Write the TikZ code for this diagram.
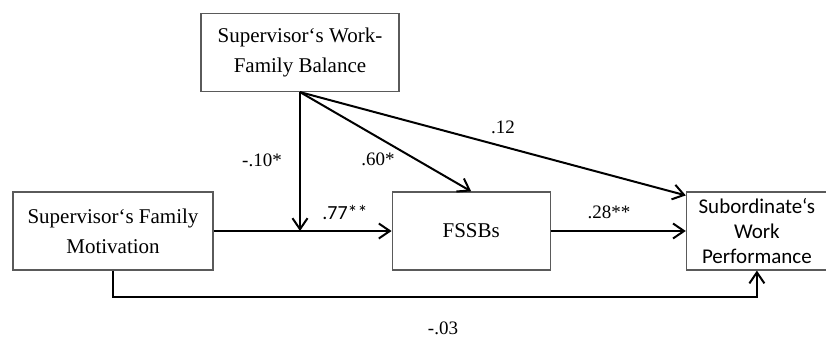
\documentclass[tikz,border=0pt]{standalone}
\usepackage{fontspec}
\setmainfont{Liberation Serif}
\newfontfamily\calibrifont{Carlito}
\usetikzlibrary{positioning,arrows.meta}
\definecolor{boxgray}{HTML}{5A5A5A}

\begin{document}
\begin{tikzpicture}[
    x=1pt, y=1pt,
    >={Straight Barb[length=5.5pt,width=7.5pt]},
    construct/.style={
        draw=boxgray, line width=0.6pt, inner sep=0pt,
        minimum width=#1, minimum height=39pt,
        align=center, font=\fontsize{10.5}{15}\selectfont
    },
    link/.style={->, line width=1pt},
    coef/.style={font=\fontsize{9.5}{10}\selectfont, inner sep=1pt},
]
\useasboundingbox (0,0) rectangle (413,-169.5);

% === Constructs ===
\node[construct=99pt] (balance) at (150,-26.25) {Supervisor‘s Work-\\Family Balance};
\node[construct=100pt] (motive) at (56.5,-115.5) {Supervisor‘s Family\\Motivation};
\node[construct=79pt, right=89pt of motive] (fssb) {FSSBs};
\node[construct=70.5pt, right=67.5pt of fssb,
    font=\calibrifont\fontsize{10.5}{12.5}\selectfont] (perform) {Subordinate‘s\\Work\\Performance};

% Moderation point on the main path
\coordinate (joint) at (balance.south |- motive.east);

% === Paths ===
\draw[link] (motive.east) -- (fssb.west);
\draw[link] (balance.south) -- (joint);
\draw[link] (balance.south) -- (fssb.north);
\draw[link] (balance.south) -- ([yshift=-2pt]perform.north west);
\draw[link] (fssb.east) -- (fssb.east -| perform.west);
\draw[link] (motive.south) -- ++(0,-13) -| (perform.south);

% Coefficients
\node[coef] (c1) at (131,-80) {-.10*};
\node[coef] (c2) at (189,-79.5) {.60*};
\node[coef] (c3) at (251.5,-63.5) {.12};
\node[coef, font=\calibrifont\fontsize{10}{11}\selectfont] (c4) at (172.5,-106) {.77**};
\node[coef] (c5) at (304.5,-106) {.28**};
\node[coef] (c6) at (221.5,-164) {-.03};

\end{tikzpicture}
\end{document}
